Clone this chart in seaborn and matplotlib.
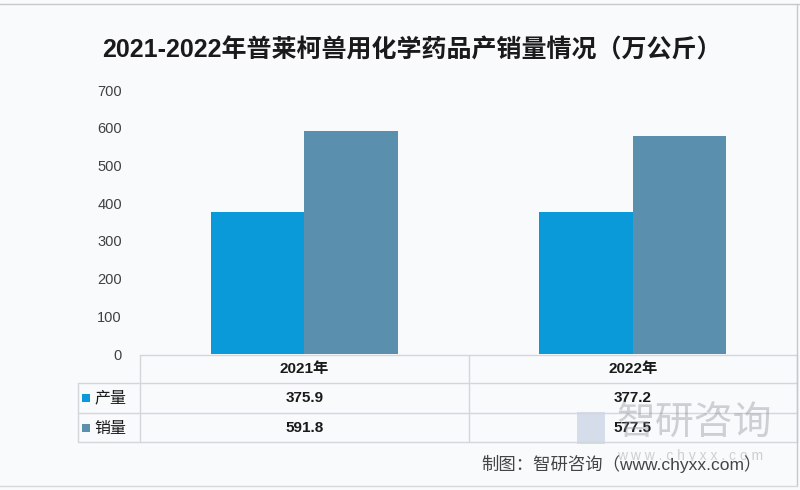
import matplotlib
matplotlib.use("Agg")
import matplotlib.pyplot as plt
import matplotlib.transforms as mtransforms
from matplotlib.lines import Line2D
from matplotlib.patches import Rectangle
import seaborn as sns
import pandas as pd

years = ["2021年", "2022年"]
series_names = ["产量", "销量"]
production = [375.9, 377.2]
sales = [591.8, 577.5]
yticks = [0, 100, 200, 300, 400, 500, 600, 700]
title = "2021-2022年普莱柯兽用化学药品产销量情况（万公斤）"
source = "制图：智研咨询（www.chyxx.com）"
colors = ["#0a9ad9", "#5b8fae"]

sns.set_theme(style="white")
plt.rcParams['font.family'] = ['Liberation Sans', 'Noto Sans CJK SC', 'DejaVu Sans']

df = pd.DataFrame({
    "year": years * 2,
    "series": [series_names[0]] * 2 + [series_names[1]] * 2,
    "value": production + sales,
})

W, H = 800, 490
bg = "#f9fafc"
fig = plt.figure(figsize=(W / 100, H / 100), dpi=100, facecolor=bg)

def fx(px):
    return px / W

def fy(py):
    return 1 - py / H

ax = fig.add_axes([fx(140), fy(354), fx(797) - fx(140), fy(90) - fy(354)])
ax.set_facecolor(bg)
sns.barplot(data=df, x="year", y="value", hue="series", palette=colors,
            width=0.57, saturation=1, ax=ax, legend=False, linewidth=0)
ax.set_xlim(-0.5, 1.5)
ax.set_ylim(0, 700)
ax.set_yticks(yticks)
ax.set_yticklabels([str(v) for v in yticks], fontsize=10.5, color="#404040")
ax.tick_params(axis="y", length=0, pad=13)
ax.set_xticks([])
ax.set_xlabel("")
ax.set_ylabel("")
for s in ax.spines.values():
    s.set_visible(False)

# title
fig.text(fx(412), fy(50), title, ha="center", va="center", fontsize=18,
         fontweight="bold", color="#1a1a1a")

# data table
grid = "#d3d6da"
bt = mtransforms.blended_transform_factory(ax.transData, fig.transFigure)
row_y = [355, 383, 413, 442]
fig.add_artist(Line2D([-0.5, 1.5], [fy(row_y[0])] * 2, transform=bt, color=grid, lw=1))
for yy in row_y[1:]:
    fig.add_artist(Line2D([fx(78), fx(797)], [fy(yy)] * 2, transform=fig.transFigure, color=grid, lw=1))
fig.add_artist(Line2D([fx(78)] * 2, [fy(383), fy(442)], transform=fig.transFigure, color=grid, lw=1))
for xv in [-0.5, 0.5, 1.5]:
    fig.add_artist(Line2D([xv, xv], [fy(355), fy(442)], transform=bt, color=grid, lw=1))

txt_col = "#1a1a1a"
for i, yr in enumerate(years):
    fig.text(i, fy(369), yr, transform=bt, ha="center", va="center",
             fontsize=11, fontweight="bold", color=txt_col)
    fig.text(i, fy(398), f"{production[i]:.1f}", transform=bt, ha="center", va="center",
             fontsize=11, fontweight="bold", color=txt_col)
    fig.text(i, fy(428), f"{sales[i]:.1f}", transform=bt, ha="center", va="center",
             fontsize=11, fontweight="bold", color=txt_col)

for name, c, yy in zip(series_names, colors, [398, 428]):
    fig.add_artist(Rectangle((fx(82), fy(yy + 4)), fx(8), 8 / H, transform=fig.transFigure,
                             facecolor=c, edgecolor="none"))
    fig.text(fx(94), fy(yy), name, ha="left", va="center", fontsize=11.5, color=txt_col)

# watermark (logo block + name + url)
fig.add_artist(Rectangle((fx(577), fy(444)), fx(28), 32 / H, transform=fig.transFigure,
                         facecolor="#b9c6dc", edgecolor="none", alpha=0.55))
fig.text(fx(616), fy(424), "智研咨询", ha="left", va="center", fontsize=28,
         color="#8a8f96", alpha=0.4, family=["Noto Sans CJK SC"])
fig.text(fx(690), fy(456), "w w w . c h y x x . c o m", ha="center", va="center",
         fontsize=10, color="#8a8f96", alpha=0.4)

# source
fig.text(fx(762), fy(464), source, ha="right", va="center", fontsize=12.5,
         color="#444444")

# frame
fig.add_artist(Line2D([0, 1], [fy(4)] * 2, transform=fig.transFigure, color="#c8c8c8", lw=1))
fig.add_artist(Line2D([fx(797)] * 2, [fy(4), fy(486)], transform=fig.transFigure, color="#c8c8c8", lw=1))
fig.add_artist(Line2D([0, fx(797)], [fy(486)] * 2, transform=fig.transFigure, color="#d8d8d8", lw=1))

fig.savefig("out.png", dpi=100, facecolor=bg)
